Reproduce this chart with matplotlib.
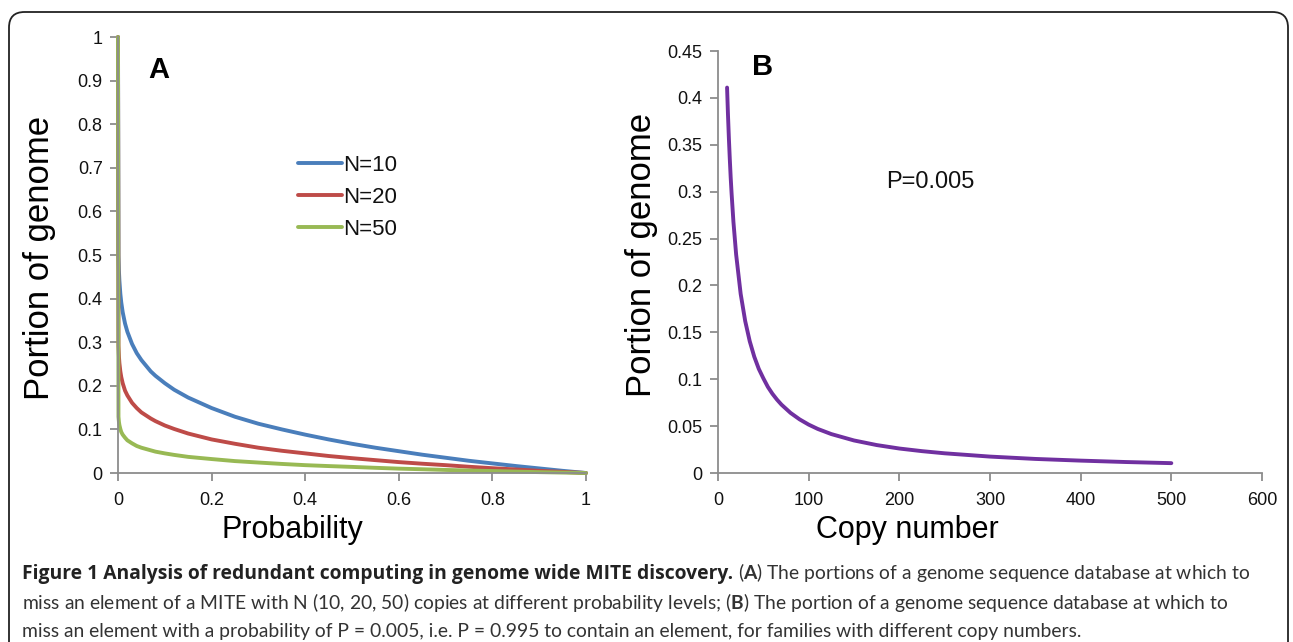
import matplotlib
matplotlib.use("Agg")
import matplotlib.pyplot as plt
from matplotlib.patches import FancyBboxPatch

# ---- data ----
prob = [0.0, 0.001, 0.002, 0.003, 0.005, 0.007, 0.01, 0.015, 0.02, 0.03, 0.04, 0.05, 0.07, 0.08,
        0.1, 0.12, 0.15, 0.2, 0.25, 0.3, 0.35, 0.4, 0.45, 0.5, 0.55, 0.6, 0.65, 0.7, 0.75,
        0.8, 0.85, 0.9, 0.95, 1.0]
portion_n10 = [1.0, 0.499, 0.463, 0.441, 0.411, 0.391, 0.369, 0.343, 0.324, 0.296, 0.275, 0.259,
               0.233, 0.223, 0.206, 0.191, 0.173, 0.149, 0.129, 0.113, 0.100, 0.088, 0.077,
               0.067, 0.058, 0.050, 0.042, 0.035, 0.028, 0.022, 0.016, 0.0105, 0.005, 0.0]
portion_n20 = [1.0, 0.292, 0.267, 0.252, 0.233, 0.220, 0.206, 0.189, 0.178, 0.161, 0.149, 0.139,
               0.125, 0.119, 0.109, 0.101, 0.0905, 0.077, 0.067, 0.058, 0.051, 0.045, 0.039,
               0.034, 0.0295, 0.025, 0.0213, 0.018, 0.0143, 0.011, 0.0081, 0.005, 0.0026, 0.0]
portion_n50 = [1.0, 0.129, 0.117, 0.110, 0.101, 0.094, 0.088, 0.081, 0.075, 0.068, 0.062, 0.058,
               0.052, 0.049, 0.045, 0.0415, 0.037, 0.032, 0.0273, 0.024, 0.0208, 0.018, 0.0159,
               0.014, 0.0119, 0.010, 0.0086, 0.007, 0.0057, 0.0045, 0.0032, 0.002, 0.001, 0.0]
series_labels = ["N=10", "N=20", "N=50"]

copy_number = [10, 11, 12, 13, 14, 15, 17, 20, 25, 30, 35, 40, 45, 50, 55, 60, 65, 70, 80, 90,
               100, 110, 125, 150, 175, 200, 225, 250, 300, 350, 400, 450, 500]
portion_b = [0.411, 0.382, 0.357, 0.335, 0.315, 0.298, 0.268, 0.233, 0.191, 0.162, 0.1405, 0.124,
             0.111, 0.101, 0.0918, 0.0845, 0.0783, 0.0729, 0.0641, 0.0572, 0.0516, 0.047, 0.0415,
             0.0347, 0.0298, 0.0261, 0.0233, 0.0210, 0.0175, 0.0150, 0.0132, 0.0117, 0.0105]

xticks_a = [0, 0.2, 0.4, 0.6, 0.8, 1]
xticklabels_a = ["0", "0.2", "0.4", "0.6", "0.8", "1"]
yticks_a = [0, 0.1, 0.2, 0.3, 0.4, 0.5, 0.6, 0.7, 0.8, 0.9, 1]
yticklabels_a = ["0", "0.1", "0.2", "0.3", "0.4", "0.5", "0.6", "0.7", "0.8", "0.9", "1"]
xticks_b = [0, 100, 200, 300, 400, 500, 600]
xticklabels_b = ["0", "100", "200", "300", "400", "500", "600"]
yticks_b = [0, 0.05, 0.1, 0.15, 0.2, 0.25, 0.3, 0.35, 0.4, 0.45]
yticklabels_b = ["0", "0.05", "0.1", "0.15", "0.2", "0.25", "0.3", "0.35", "0.4", "0.45"]

plt.rcParams['font.family'] = ['Liberation Sans', 'DejaVu Sans']
plt.rcParams['mathtext.fontset'] = 'custom'
plt.rcParams['mathtext.rm'] = 'Lato'
plt.rcParams['mathtext.bf'] = 'Lato:bold'

W, H = 1293, 642
fig = plt.figure(figsize=(W / 100, H / 100), dpi=100)

def fx(px):
    return px / W

def fy(py):
    return 1 - py / H

# rounded border
border = FancyBboxPatch((fx(9), fy(660)), fx(1288) - fx(9), fy(12) - fy(660),
                        boxstyle="round,pad=0,rounding_size=0.012",
                        transform=fig.transFigure, fill=False, edgecolor="#222222",
                        linewidth=1.3, mutation_aspect=W / H)
fig.patches.append(border)

axis_gray = "#8c8c8c"

def style(ax):
    for s in ["top", "right"]:
        ax.spines[s].set_visible(False)
    for s in ["left", "bottom"]:
        ax.spines[s].set_color(axis_gray)
        ax.spines[s].set_linewidth(1.3)
    ax.tick_params(direction="out", length=6, width=1.3, color=axis_gray,
                   labelsize=13, labelcolor="#111111", pad=5)

# ---- panel A ----
axA = fig.add_axes([fx(118), fy(473), fx(586) - fx(118), fy(37) - fy(473)])
colors = ["#4a7ebb", "#be4b48", "#98b954"]
for vals, lab, c in zip([portion_n10, portion_n20, portion_n50], series_labels, colors):
    axA.plot(prob, vals, color=c, lw=2.8, label=lab, solid_capstyle="round",
             solid_joinstyle="round", clip_on=False)
axA.set_xlim(0, 1)
axA.set_ylim(0, 1)
axA.set_xticks(xticks_a)
axA.set_xticklabels(xticklabels_a)
axA.set_yticks(yticks_a)
axA.set_yticklabels(yticklabels_a)
style(axA)
axA.tick_params(axis="x", pad=8)
axA.text(0.065, 0.925, "A", fontsize=21, fontweight="bold", va="center")
leg = axA.legend(loc="upper left", frameon=False,
                 fontsize=16, handlelength=2.0, handletextpad=0.05, labelspacing=0.5,
                 borderaxespad=0, borderpad=0)
leg.set_bbox_to_anchor((fx(298), fy(155)), transform=fig.transFigure)
for t in leg.get_texts():
    t.set_color("#111111")

# ---- panel B ----
axB = fig.add_axes([fx(718), fy(473), fx(1262) - fx(718), fy(51) - fy(473)])
axB.plot(copy_number, portion_b, color="#7030a0", lw=2.8, solid_capstyle="round",
         solid_joinstyle="round")
axB.set_xlim(0, 600)
axB.set_ylim(0, 0.45)
axB.set_xticks(xticks_b)
axB.set_xticklabels(xticklabels_b)
axB.set_yticks(yticks_b)
axB.set_yticklabels(yticklabels_b)
style(axB)
axB.tick_params(axis="x", pad=8)
axB.text(38, 0.433, "B", fontsize=21, fontweight="bold", va="center")
fig.text(fx(930), fy(182), "P=0.005", fontsize=17, ha="center", va="center", color="#111111")

# axis titles
fig.text(fx(40), fy(258), "Portion of genome", rotation=90, fontsize=25, ha="center", va="center")
fig.text(fx(642), fy(255), "Portion of genome", rotation=90, fontsize=25, ha="center", va="center")
fig.text(fx(292), fy(530), "Probability", fontsize=22, ha="center", va="center")
fig.text(fx(907), fy(530), "Copy number", fontsize=22, ha="center", va="center")

# ---- caption ----
cap_title = "Figure 1 Analysis of redundant computing in genome wide MITE discovery."
line1_rest = r"($\mathbf{A}$) The portions of a genome sequence database at which to"
line2 = (r"miss an element of a MITE with N (10, 20, 50) copies at different probability levels; "
         r"($\mathbf{B}$) The portion of a genome sequence database at which to")
line3 = (r"miss an element with a probability of P = 0.005, i.e. P = 0.995 to contain an element, "
         r"for families with different copy numbers.")
cap_kw = dict(fontsize=13.9, ha="left", va="baseline", color="#333333", family="Lato")
renderer = fig.canvas.get_renderer()
t_title = fig.text(fx(22), fy(579), cap_title, fontsize=13.9, fontweight="bold", ha="left",
                   va="baseline", color="#222222", family="Open Sans")
bb = t_title.get_window_extent(renderer)
fig.text(bb.x1 / W + fx(5), fy(579), line1_rest, **cap_kw)
fig.text(fx(22), fy(609), line2, **cap_kw)
fig.text(fx(22), fy(637), line3, **cap_kw)

fig.savefig("out.png", dpi=100)
